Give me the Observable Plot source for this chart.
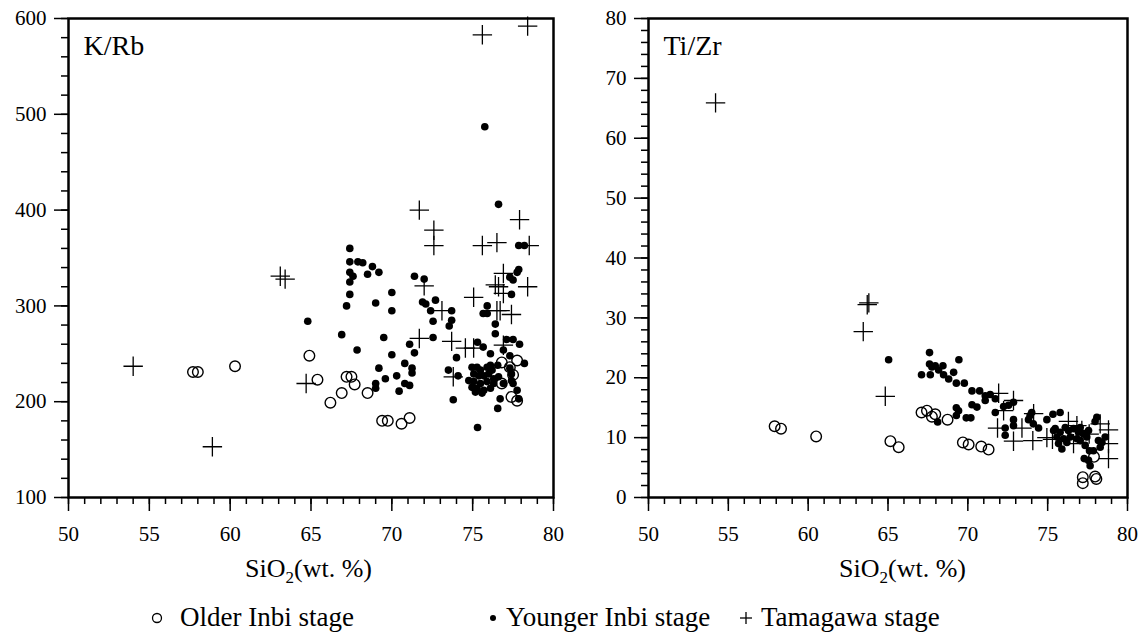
<!DOCTYPE html>
<html>
<head>
<meta charset="utf-8">
<script src="https://cdn.jsdelivr.net/npm/d3@7"></script>
<script src="https://cdn.jsdelivr.net/npm/@observablehq/plot@0.6"></script>
<style>
  html, body { margin: 0; padding: 0; background: #fff; }
  #wrap { position: relative; width: 1142px; height: 635px; overflow: hidden; font-family: "Liberation Serif", serif; }
  #left { position: absolute; left: 0; top: 0; }
  #right { position: absolute; left: 571px; top: 0; }
  #wrap svg text, #wrap svg tspan { font-family: "Liberation Serif", serif !important; }
  .leg { position: absolute; top: 600px; font-size: 27px; line-height: 34px; color: #000; white-space: nowrap; font-family: "Liberation Serif", serif; }
</style>
</head>
<body>
<div id="wrap">
  <div id="left"></div>
  <div id="right"></div>
  <div id="legend"></div>
</div>
<script>
// ---------- data (SiO2 wt.%, ratio) ----------
const xMajorTicks = [50, 55, 60, 65, 70, 75, 80];
const kRbTicks = [100, 200, 300, 400, 500, 600];
const tiZrTicks = [0, 10, 20, 30, 40, 50, 60, 70, 80];
const legendLabels = ["Older Inbi stage", "Younger Inbi stage", "Tamagawa stage"];

const olderKRb = [[57.7,231],[58.0,231],[60.3,237],[64.9,248],[65.4,223],[66.2,199],[66.9,209],[67.2,226],[67.5,226],[67.7,218],[68.5,209],[69.4,180],[69.75,180],[70.6,177],[71.1,183],[76.8,241],[77.3,236],[77.75,243],[76.8,219],[77.5,228],[77.4,205],[77.75,201]];

const youngerKRb = [[67.4,360],[67.4,346],[67.9,346],[68.2,345],[68.8,341],[69.2,335],[68.5,333],[67.4,335],[67.6,331],[67.4,325],[67.4,312],[67.2,300],[69.0,303],[70.0,314],[70.0,295],[64.8,284],[66.9,270],[69.5,267],[67.85,254],[70.0,249],[69.2,235],[70.8,240],[70.3,227],[69.6,224],[71.25,235],[71.25,230],[71.1,260],[71.4,251],[69.0,219],[69.0,214],[70.8,219],[71.1,217],[70.45,211],[71.4,331],[72.0,328],[71.9,304],[72.1,302],[72.4,295],[72.7,306],[72.55,284],[72.55,267],[73.7,295],[73.7,285],[73.55,279],[74.0,246],[73.5,233],[73.8,202],[74.1,227],
[75.75,487],[76.6,406],[77.85,363],[78.2,363],[77.85,338],[77.75,335],[77.3,330],[77.5,327],[77.4,312],
[75.9,300],[75.65,292],[75.9,292],[76.4,281],[76.4,271],[77.1,265],[77.5,265],[77.9,260],[75.3,262],[75.65,257],[76.1,250],[75.3,173],[76.55,193],[76.7,203],[77.3,235],[77.4,229],[77.75,212],[77.85,203],[78.2,240],[77.4,222],[77.5,219],[76.9,254],[77.3,248],
[74.96,236],[75.27,236],[75.48,233],[75.07,229],[75.38,227],[75.69,227],[75.99,229],[76.2,233],[74.76,222],[75.07,221],[75.48,219],[75.89,221],[76.3,219],[74.96,215],[75.27,214],[75.69,212],[76.1,214],[75.58,209],[75.17,210],[76.3,224],[75.89,236],[76.1,238],[76.55,238],[76.6,226],[76.9,219]];

const tamagawaKRb = [[54.0,237],[58.9,153],[63.1,331],[63.4,328],[64.7,219],[71.7,400],[72.6,379],[72.6,363],[72.0,321],[73.1,295],[71.7,266],[73.7,263],[73.8,226],[74.55,256],[75.06,256],[76.9,259],[75.06,309],[76.5,295],[76.7,295],[77.4,291],[75.6,583],[78.4,592],[77.9,390],[75.6,363],[76.5,366],[78.5,363],[78.4,320],[76.9,334],[76.4,322],[76.6,320],[76.9,313]];

const olderTiZr = [[57.9,11.9],[58.3,11.5],[60.5,10.2],[65.15,9.4],[65.67,8.4],[67.1,14.2],[67.44,14.5],[67.75,13.5],[67.96,13.9],[68.73,13.0],[69.69,9.2],[70.05,8.85],[70.84,8.5],[71.3,8.0],[77.2,3.4],[77.2,2.4],[77.97,3.5],[78.05,3.1],[77.9,6.8]];

const youngerTiZr = [[65.04,23.0],[67.6,24.2],[67.6,22.3],[67.75,21.8],[67.96,22.0],[67.1,20.5],[67.65,20.5],[68.44,22.0],[68.17,21.3],[68.48,20.5],[68.8,19.8],[69.11,20.9],[69.44,23.0],[69.28,19.1],[69.78,19.1],[70.26,17.8],[70.74,17.8],[70.26,15.5],[70.57,15.1],[71.09,16.2],[71.4,17.2],[71.72,16.5],[71.09,17.0],[69.28,15.0],[69.42,14.5],[69.28,13.7],[69.9,13.3],[70.19,13.3],[68.11,12.6],[71.72,14.2],[72.24,15.2],[72.55,15.4],[72.86,15.9],[72.34,11.6],[72.34,10.4],[72.86,13.0],[72.86,12.0],[73.8,13.0],[73.9,13.7],[74.0,14.2],[74.1,12.3],[74.43,11.6],[74.95,13.0],[75.33,13.9],[75.78,14.2],
[75.47,11.5],[75.78,10.9],[76.1,11.7],[76.3,11.2],[76.62,11.5],[76.93,10.9],[77.24,10.6],[75.58,10.1],[76.0,9.8],[76.41,10.1],[76.83,9.8],[77.45,10.1],[75.68,9.0],[76.2,9.2],[75.89,8.1],[75.37,11.2],[77.04,11.7],[77.56,11.2],
[77.04,9.5],[77.35,8.7],[77.62,7.8],[77.66,5.3],[77.29,6.5],[77.97,12.7],[78.08,13.4],[78.18,9.5],[78.29,8.4],[78.6,10.1],[77.87,7.8],[77.56,6.2],[78.4,9.2]];

const tamagawaTiZr = [[54.2,65.9],[63.8,32.5],[63.7,32.2],[63.45,27.7],[64.83,16.9],[71.93,17.4],[72.86,16.2],[72.24,14.5],[71.86,11.6],[72.86,9.4],[73.39,11.6],[74.07,9.5],[74.12,14.0],[74.95,10.0],[75.3,9.7],[76.3,12.7],[76.83,12.0],[77.14,11.2],[77.6,10.6],[76.62,9.0],[78.29,12.3],[78.81,11.3],[78.81,9.0],[78.81,6.5]];

// ---------- drawing ----------
const FONT = "Liberation Serif, serif";

function panel({older, younger, tamagawa, yDomain, yMajor, yMinorStep, title, marginLeft, marginRight, labelOffset}) {
  const yMinor = d3.range(yDomain[0], yDomain[1] + 1e-9, yMinorStep);
  const xMinor = d3.range(50, 80.001, 1);
  const chart = Plot.plot({
    width: 571,
    height: 590,
    marginTop: 18,
    marginBottom: 93,
    marginLeft,
    marginRight,
    style: {fontFamily: FONT, color: "black", background: "white", overflow: "visible"},
    x: {domain: [50, 80], label: null},
    y: {domain: yDomain, label: null},
    marks: [
      Plot.axisX(xMinor, {tickSize: 7, tickFormat: () => "", strokeWidth: 1.5, label: null}),
      Plot.axisX(xMajorTicks, {tickSize: 14, tickPadding: 15, strokeWidth: 1.5, fontSize: 21, fontFamily: FONT, label: null}),
      Plot.axisY(yMinor, {tickSize: 7, tickFormat: () => "", strokeWidth: 1.5, label: null}),
      Plot.axisY(yMajor, {tickSize: 14, tickPadding: 8, strokeWidth: 1.5, fontSize: 21, fontFamily: FONT, label: null}),
      Plot.frame({stroke: "black", strokeWidth: 2.5}),
      Plot.dot(older, {x: d => d[0], y: d => d[1], r: 5.3, stroke: "black", strokeWidth: 1.4, fill: "none"}),
      Plot.dot(younger, {x: d => d[0], y: d => d[1], r: 3.8, fill: "black", stroke: "none"}),
      Plot.dot(tamagawa, {x: d => d[0], y: d => d[1], symbol: "plus", r: 6.3, stroke: "black", strokeWidth: 1.3}),
      Plot.text([title], {frameAnchor: "top-left", dx: 15, dy: 36, lineAnchor: "bottom", textAnchor: "start", fontSize: 28, fontFamily: FONT, fill: "black"})
    ]
  });
  const svg = d3.select(chart);
  const frameCx = marginLeft + (571 - marginLeft - marginRight) / 2 + labelOffset;
  const t = svg.append("text")
    .attr("x", frameCx).attr("y", 577)
    .attr("text-anchor", "middle")
    .style("font-family", FONT).attr("font-size", 26).attr("fill", "black");
  t.append("tspan").text("SiO");
  t.append("tspan").attr("font-size", 17).attr("dy", 6).text("2");
  t.append("tspan").attr("dy", -6).text("(wt. %)");
  return chart;
}

document.getElementById("left").appendChild(panel({
  older: olderKRb, younger: youngerKRb, tamagawa: tamagawaKRb,
  yDomain: [100, 600], yMajor: kRbTicks, yMinorStep: 20, title: "K/Rb",
  marginLeft: 68, marginRight: 18, labelOffset: -2
}));
document.getElementById("right").appendChild(panel({
  older: olderTiZr, younger: youngerTiZr, tamagawa: tamagawaTiZr,
  yDomain: [0, 80], yMajor: tiZrTicks, yMinorStep: 2, title: "Ti/Zr",
  marginLeft: 77, marginRight: 15, labelOffset: 15
}));

// ---------- legend ----------
const legend = d3.select("#legend");
const legItems = [
  {label: legendLabels[0], sx: 157, tx: 180, kind: "open"},
  {label: legendLabels[1], sx: 493, tx: 506, kind: "dot"},
  {label: legendLabels[2], sx: 746, tx: 761, kind: "plus"}
];
for (const it of legItems) {
  const s = legend.append("svg").attr("width", 20).attr("height", 20)
    .style("position", "absolute").style("left", (it.sx - 10) + "px").style("top", "608px");
  if (it.kind === "open") s.append("circle").attr("cx", 10).attr("cy", 10).attr("r", 4.5).attr("fill", "none").attr("stroke", "black").attr("stroke-width", 1.3);
  if (it.kind === "dot") s.append("circle").attr("cx", 10).attr("cy", 10).attr("r", 3).attr("fill", "black");
  if (it.kind === "plus") {
    s.append("line").attr("x1", 4).attr("x2", 16).attr("y1", 10).attr("y2", 10).attr("stroke", "black").attr("stroke-width", 1.3);
    s.append("line").attr("x1", 10).attr("x2", 10).attr("y1", 4).attr("y2", 16).attr("stroke", "black").attr("stroke-width", 1.3);
  }
  legend.append("div").attr("class", "leg").style("left", it.tx + "px").text(it.label);
}
</script>
</body>
</html>
